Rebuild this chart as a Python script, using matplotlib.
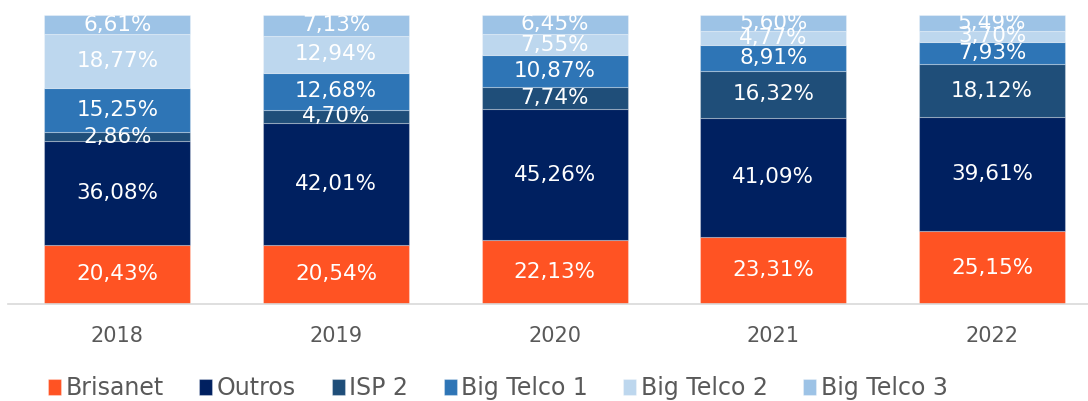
import matplotlib
matplotlib.use("Agg")
import matplotlib.pyplot as plt
import numpy as np

years = ["2018", "2019", "2020", "2021", "2022"]
series_names = ["Brisanet", "Outros", "ISP 2", "Big Telco 1", "Big Telco 2", "Big Telco 3"]
brisanet = [20.43, 20.54, 22.13, 23.31, 25.15]
outros = [36.08, 42.01, 45.26, 41.09, 39.61]
isp2 = [2.86, 4.70, 7.74, 16.32, 18.12]
big_telco_1 = [15.25, 12.68, 10.87, 8.91, 7.93]
big_telco_2 = [18.77, 12.94, 7.55, 4.77, 3.70]
big_telco_3 = [6.61, 7.13, 6.45, 5.60, 5.49]

colors = ["#FF5323", "#002060", "#1F4E79", "#2E75B6", "#BDD7EE", "#9DC3E6"]
data = [brisanet, outros, isp2, big_telco_1, big_telco_2, big_telco_3]

plt.rcParams['font.family'] = ['DejaVu Sans']
fig = plt.figure(figsize=(10.88, 4.01), dpi=100)
W, H = 1088, 401
ax = fig.add_axes([8 / W, (H - 304) / H, 1 - 8 / W, (304 - 15) / H])

x = np.arange(len(years))
bottom = np.zeros(len(years))
handles = []
for name, vals, c in zip(series_names, data, colors):
    vals = np.array(vals)
    b = ax.bar(x, vals, bottom=bottom, width=0.667, color=c, label=name,
               edgecolor=(1, 1, 1, 0.3), linewidth=0.8)
    handles.append(b)
    for xi, v, bt in zip(x, vals, bottom):
        ax.text(xi, bt + v / 2, f"{v:.2f}%".replace(".", ","), ha="center", va="center",
                color="white", fontsize=15.5)
    bottom += vals

ax.set_xlim(-0.5, (1088 - 117) / 218.75)
ax.set_ylim(0, 100)
ax.set_yticks([])
ax.set_xticks(x)
ax.set_xticklabels(years, fontsize=15, color="#595959")
ax.tick_params(axis="x", length=0, pad=16)
for s in ["top", "right", "left"]:
    ax.spines[s].set_visible(False)
ax.spines["bottom"].set_color("#D9D9D9")
ax.spines["bottom"].set_linewidth(1.2)

fig.legend(handles=handles, labels=series_names, loc="center", bbox_to_anchor=(498 / W, 1 - 388 / H),
           ncol=6, frameon=False, fontsize=17, handlelength=0.55, handleheight=0.65,
           handletextpad=0.2, columnspacing=1.5, labelcolor="#595959")

fig.savefig("out.png", dpi=100)
